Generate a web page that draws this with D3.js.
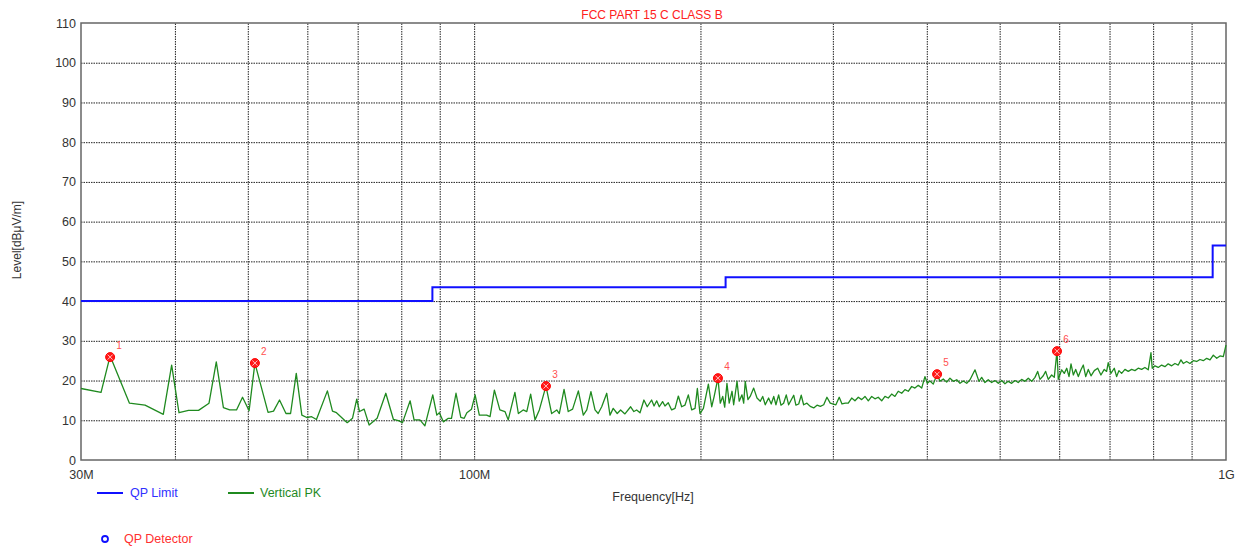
<!DOCTYPE html>
<html>
<head>
<meta charset="utf-8">
<script src="https://cdn.jsdelivr.net/npm/d3@7"></script>
<style>
  body { margin: 0; background: #fff; }
  text { font-family: "Liberation Sans", Arial, sans-serif; }
</style>
</head>
<body>
<div id="chart-area"></div>
<script>
// frequencies in MHz, levels in dBuV/m
var limitFreq  = [30, 88, 216, 960, 1000];
var limitLevel = [40, 43.5, 46, 54, 54];

var pkFreq = [
  30.0, 31.9, 32.8, 34.8, 36.5, 38.6, 39.6, 40.5, 41.7, 43.0, 44.4, 45.4, 46.4, 47.3, 48.3, 49.2,
  50.2, 51.1, 53.2, 54.1, 55.1, 56.2, 57.0, 58.0, 59.0, 59.9, 60.8, 61.7, 63.8, 64.8, 65.6, 67.8,
  68.9, 69.8, 70.4, 71.4, 72.5, 74.3, 76.3, 78.1, 79.3, 80.3, 82.2, 83.2, 84.7, 86.0, 88.1, 89.2,
  89.9, 91.0, 92.4, 93.3, 94.6, 96.0, 97.0, 97.8, 99.2, 100.3, 101.6, 103.9, 105.0, 106.4, 108.2, 109.9,
  111.0, 113.3, 114.5, 116.2, 117.5, 118.9, 120.5, 122.1, 124.6, 126.8, 128.8, 129.8, 131.7, 133.4, 135.2, 137.6,
  139.7, 141.2, 143.0, 144.8, 146.2, 147.8, 150.1, 151.6, 153.1, 155.0, 156.6, 158.7, 161.5, 163.1, 164.5, 166.2,
  168.2, 169.9, 172.2, 173.5, 174.9, 176.3, 178.1, 179.4, 181.2, 183.1, 185.0, 186.9, 188.8, 190.7, 192.7, 194.7,
  196.7, 198.1, 199.7, 201.8, 204.9, 207.0, 208.5, 211.0, 212.5, 214.1, 215.4, 216.9, 218.4, 220.3, 221.4, 223.7,
  225.2, 227.1, 228.3, 229.4, 231.3, 232.9, 235.4, 237.8, 240.2, 242.0, 243.9, 246.4, 248.4, 250.3, 252.0, 254.1,
  255.9, 258.0, 260.1, 262.0, 266.1, 267.9, 270.2, 272.3, 274.3, 277.1, 279.9, 282.9, 285.8, 288.7, 291.7, 294.6,
  297.6, 299.8, 302.8, 305.9, 308.5, 311.6, 314.5, 317.8, 321.0, 324.3, 327.7, 331.0, 334.4, 337.9, 341.3, 344.7,
  348.4, 351.9, 355.5, 359.2, 362.8, 366.5, 370.4, 374.1, 377.9, 381.9, 385.7, 389.7, 393.8, 397.7, 400.6, 403.9,
  408.0, 412.8, 416.5, 420.7, 425.1, 429.4, 433.8, 438.4, 442.8, 447.3, 452.0, 456.6, 463.6, 469.3, 473.2, 478.0,
  482.8, 487.9, 492.8, 497.9, 503.1, 508.2, 513.3, 518.7, 524.0, 529.3, 534.8, 540.3, 545.8, 551.5, 557.1, 561.7,
  565.7, 571.4, 575.6, 580.2, 586.3, 591.0, 596.0, 598.3, 604.6, 609.4, 614.0, 618.3, 622.1, 626.5, 631.1, 636.2,
  641.4, 646.0, 650.8, 655.9, 661.4, 668.1, 675.1, 681.8, 688.7, 693.8, 697.2, 703.0, 710.2, 715.4, 720.4, 726.4,
  733.8, 741.3, 749.0, 756.6, 764.3, 772.3, 780.1, 788.1, 794.7, 797.8, 804.4, 812.6, 821.1, 829.4, 837.8, 846.7,
  855.3, 864.0, 871.1, 877.3, 886.5, 895.4, 904.7, 914.1, 923.4, 932.8, 942.6, 952.2, 961.9, 972.0, 981.8, 991.8,
  1000.0
];
var pkLevel = [
  18.0, 17.0, 26.2, 14.3, 13.8, 11.5, 23.9, 11.9, 12.5, 12.5, 14.3, 24.7, 13.2, 12.6, 12.6, 15.8,
  12.4, 24.4, 12.0, 12.3, 15.1, 11.7, 11.7, 21.8, 11.3, 10.7, 10.9, 10.2, 17.4, 12.3, 11.9, 9.4,
  10.5, 15.3, 12.2, 12.8, 8.8, 10.5, 16.8, 10.2, 9.9, 9.4, 14.9, 10.1, 10.1, 8.6, 16.4, 11.3,
  11.9, 9.6, 10.5, 10.5, 16.8, 10.7, 10.5, 11.9, 12.8, 16.4, 11.3, 11.3, 10.9, 17.6, 12.6, 12.2,
  10.1, 17.0, 11.7, 12.6, 12.2, 16.6, 10.1, 12.6, 18.6, 11.7, 12.6, 11.7, 17.8, 12.2, 12.8, 17.4,
  11.3, 12.6, 17.2, 12.6, 11.7, 13.4, 16.8, 11.3, 13.0, 11.7, 12.6, 11.6, 13.4, 12.2, 12.6, 11.9,
  15.1, 13.4, 15.1, 13.6, 14.9, 13.4, 14.7, 13.6, 14.4, 12.6, 13.0, 16.1, 13.4, 13.8, 16.4, 12.6,
  13.0, 18.0, 11.7, 13.0, 19.1, 13.4, 15.9, 20.6, 14.3, 16.0, 13.3, 19.3, 14.3, 17.3, 13.9, 19.8,
  14.8, 16.4, 14.3, 19.8, 15.2, 16.0, 18.1, 15.6, 14.8, 16.0, 13.9, 15.6, 14.1, 16.0, 13.9, 16.4,
  13.8, 14.3, 16.4, 13.9, 16.3, 13.8, 14.1, 16.3, 13.9, 14.3, 13.5, 13.1, 13.8, 13.5, 13.9, 15.8,
  14.3, 14.1, 13.9, 15.8, 14.1, 14.3, 14.3, 15.6, 14.9, 15.8, 15.2, 16.0, 14.9, 16.0, 15.4, 15.8,
  14.9, 16.0, 15.6, 16.6, 16.0, 17.3, 16.8, 17.7, 17.3, 18.5, 18.1, 18.8, 18.1, 21.0, 19.3, 19.9,
  19.1, 21.6, 19.8, 20.4, 19.6, 20.6, 19.8, 20.2, 19.3, 19.9, 19.3, 20.2, 22.7, 19.8, 20.8, 19.5,
  20.2, 19.5, 20.0, 19.3, 20.0, 19.2, 19.8, 19.3, 20.0, 19.5, 20.3, 19.8, 20.6, 19.8, 20.8, 22.3,
  20.3, 21.2, 22.3, 20.3, 21.4, 20.8, 27.4, 20.3, 22.7, 21.8, 23.1, 21.0, 24.2, 21.4, 22.8, 21.0,
  22.7, 23.9, 21.0, 22.8, 21.2, 22.5, 23.1, 21.4, 22.8, 22.3, 24.5, 21.8, 23.1, 21.0, 22.5, 21.8,
  22.8, 22.3, 22.8, 22.5, 23.1, 22.8, 23.3, 22.7, 27.0, 23.1, 23.7, 23.3, 23.9, 23.5, 24.2, 23.7,
  24.3, 23.9, 25.2, 24.3, 24.8, 24.3, 25.0, 24.8, 25.3, 25.0, 25.6, 25.2, 26.4, 25.6, 26.2, 26.0,
  28.9
];

var markerFreq  = [32.8, 51.1, 124.6, 211.0, 412.8, 596.0];
var markerLevel = [25.9, 24.4, 18.6, 20.6, 21.6, 27.4];
var markerName  = ["1", "2", "3", "4", "5", "6"];

var yTicks = [0, 10, 20, 30, 40, 50, 60, 70, 80, 90, 100, 110];
var xGrid = [40, 50, 60, 70, 80, 90, 100, 200, 300, 400, 500, 600, 700, 800, 900];
var xTicks = [30, 100, 1000];
var xTickLabels = ["30M", "100M", "1G"];

var margin = {top: 23, right: 16, bottom: 90, left: 81};
var svgW = 1242, svgH = 550;
var width = svgW - margin.left - margin.right;
var height = svgH - margin.top - margin.bottom;

var svg = d3.select("#chart-area")
  .append("svg")
    .attr("width", svgW)
    .attr("height", svgH);

var g = svg.append("g")
    .attr("transform", "translate(" + margin.left + "," + margin.top + ")");

var x = d3.scaleLog().domain([30, 1000]).range([0, width]);
var y = d3.scaleLinear().domain([0, 110]).range([height, 0]);

// grid
g.append("g")
    .attr("class", "grid")
    .attr("transform", "translate(0," + height + ")")
    .call(d3.axisBottom(x).tickValues(xGrid).tickSize(-height).tickFormat(""))
    .call(function(s) { s.select(".domain").remove(); });
g.append("g")
    .attr("class", "grid")
    .call(d3.axisLeft(y).tickValues(yTicks.slice(1, -1)).tickSize(-width).tickFormat(""))
    .call(function(s) { s.select(".domain").remove(); });
g.selectAll(".grid line")
    .attr("stroke", "#222")
    .attr("stroke-width", 1)
    .attr("stroke-dasharray", "1.5,1");

// frame
g.append("rect")
    .attr("width", width)
    .attr("height", height)
    .attr("fill", "none")
    .attr("stroke", "#666")
    .attr("stroke-width", 1.5);

// axes labels
var yAxis = g.append("g")
    .call(d3.axisLeft(y).tickValues(yTicks).tickSize(0).tickPadding(5));
yAxis.select(".domain").remove();
yAxis.selectAll("text")
    .attr("font-size", "12.5px")
    .attr("font-family", "Liberation Sans, Arial, sans-serif")
    .attr("fill", "#333");

var xAxis = g.append("g")
    .attr("transform", "translate(0," + height + ")")
    .call(d3.axisBottom(x).tickValues(xTicks).tickSize(0).tickPadding(10)
      .tickFormat(function(d, i) { return xTickLabels[i]; }));
xAxis.select(".domain").remove();
xAxis.selectAll("text")
    .attr("font-size", "12.5px")
    .attr("font-family", "Liberation Sans, Arial, sans-serif")
    .attr("fill", "#333");

// limit line
var limitData = limitFreq.map(function(f, i) { return {f: f, v: limitLevel[i]}; });
g.append("path")
    .datum(limitData)
    .attr("fill", "none")
    .attr("stroke", "#1010ff")
    .attr("stroke-width", 2)
    .attr("d", d3.line()
      .curve(d3.curveStepAfter)
      .x(function(d) { return x(d.f); })
      .y(function(d) { return y(d.v); }));

// peak trace
var pkData = pkFreq.map(function(f, i) { return {f: f, v: pkLevel[i]}; });
g.append("path")
    .datum(pkData)
    .attr("fill", "none")
    .attr("stroke", "#1f8a1f")
    .attr("stroke-width", 1.3)
    .attr("stroke-linejoin", "round")
    .attr("d", d3.line()
      .x(function(d) { return x(d.f); })
      .y(function(d) { return y(d.v); }));

// markers
var markers = g.selectAll(".marker")
    .data(markerFreq)
    .enter()
    .append("g")
    .attr("class", "marker")
    .attr("transform", function(d, i) {
      return "translate(" + x(d) + "," + y(markerLevel[i]) + ")";
    });
markers.append("circle")
    .attr("r", 4.5)
    .attr("fill", "#ff1a1a")
    .attr("stroke", "#ff0000")
    .attr("stroke-width", 1);
markers.append("path")
    .attr("d", "M-2.5,-2.5L2.5,2.5M-2.5,2.5L2.5,-2.5")
    .attr("stroke", "#ffc0c0")
    .attr("stroke-width", 1);
markers.append("text")
    .attr("x", 9)
    .attr("y", -8)
    .attr("font-size", "10px")
    .attr("fill", "#ff5050")
    .attr("text-anchor", "middle")
    .text(function(d, i) { return markerName[i]; });

// title
svg.append("text")
    .attr("x", 652)
    .attr("y", 19)
    .attr("text-anchor", "middle")
    .attr("font-size", "12px")
    .attr("fill", "#ff2020")
    .text("FCC PART 15 C CLASS B");

// axis titles
svg.append("text")
    .attr("transform", "rotate(-90)")
    .attr("x", -240)
    .attr("y", 21)
    .attr("text-anchor", "middle")
    .attr("font-size", "12px")
    .attr("fill", "#333")
    .text("Level[dBμV/m]");

svg.append("text")
    .attr("x", 653)
    .attr("y", 501)
    .attr("text-anchor", "middle")
    .attr("font-size", "12.5px")
    .attr("fill", "#333")
    .text("Frequency[Hz]");

// legend
var legend = svg.append("g");
legend.append("line")
    .attr("x1", 97).attr("x2", 123).attr("y1", 493).attr("y2", 493)
    .attr("stroke", "#1010ff").attr("stroke-width", 2);
legend.append("text")
    .attr("x", 130).attr("y", 497)
    .attr("font-size", "12.5px").attr("fill", "#3030ff")
    .text("QP Limit");
legend.append("line")
    .attr("x1", 228).attr("x2", 254).attr("y1", 493).attr("y2", 493)
    .attr("stroke", "#1f8a1f").attr("stroke-width", 2);
legend.append("text")
    .attr("x", 260).attr("y", 497)
    .attr("font-size", "12.5px").attr("fill", "#1f8a1f")
    .text("Vertical PK");
legend.append("circle")
    .attr("cx", 105).attr("cy", 539).attr("r", 3)
    .attr("fill", "none").attr("stroke", "#1010ff").attr("stroke-width", 1.8);
legend.append("text")
    .attr("x", 124).attr("y", 543)
    .attr("font-size", "12.5px").attr("fill", "#ff3030")
    .text("QP Detector");
</script>
</body>
</html>
